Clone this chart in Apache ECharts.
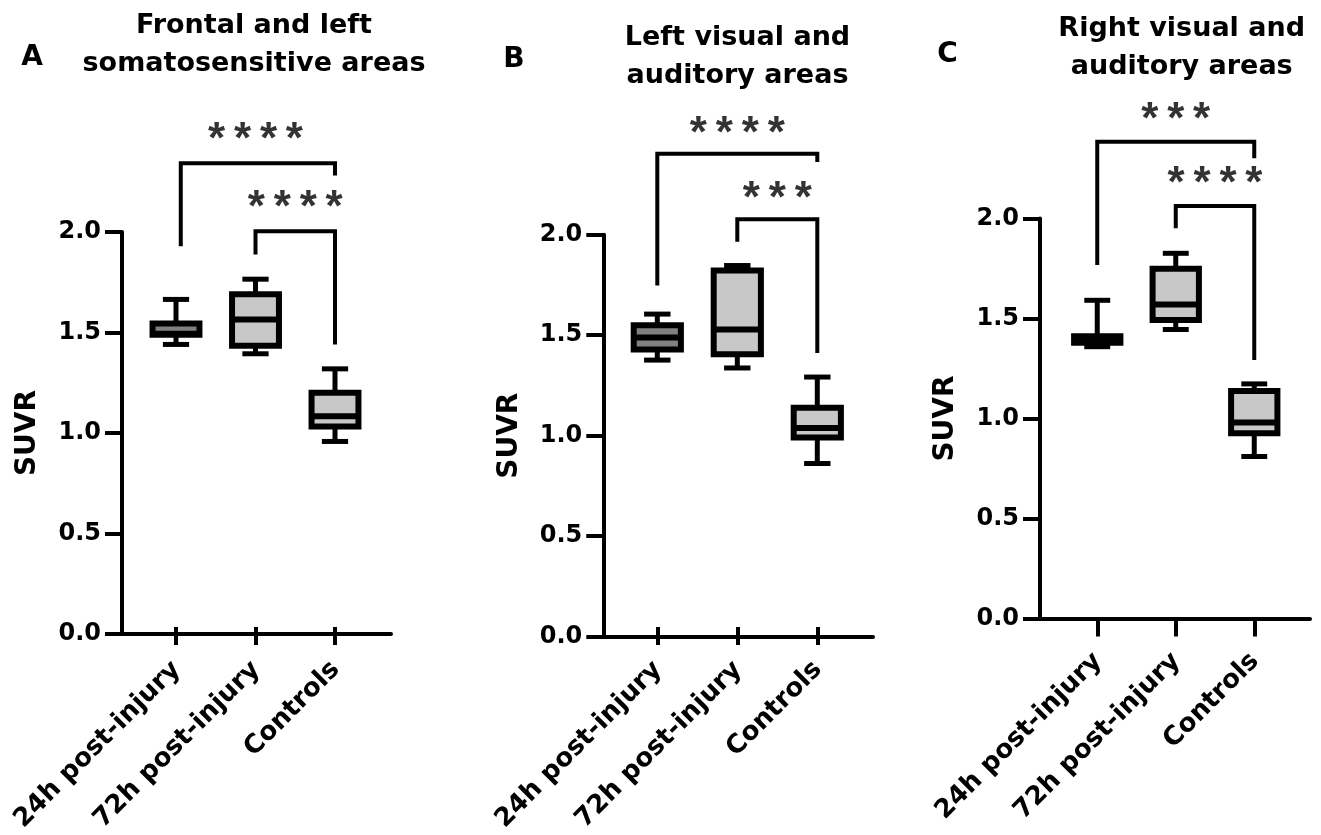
<!DOCTYPE html>
<html>
<head>
<meta charset="utf-8">
<script src="https://cdn.jsdelivr.net/npm/echarts@6/dist/echarts.min.js"></script>
<style>
html,body{margin:0;padding:0;background:#fff;}
#chart{width:1321px;height:835px;}
</style>
</head>
<body>
<div id="chart"></div>
<script>
// ---------------- DATA ----------------
const categories = ['24h post-injury', '72h post-injury', 'Controls'];
const panelTitles = ['Frontal and left\nsomatosensitive areas', 'Left visual and\nauditory areas', 'Right visual and\nauditory areas'];
const panelLetters = ['A', 'B', 'C'];
const yAxisName = 'SUVR';
const yTickInterval = 0.5;
const yAxisMax = 2.0;

// box values per group: [min, Q1, median, Q3, max]
const boxesA = [[1.424, 1.473, 1.478, 1.529, 1.651], [1.377, 1.418, 1.550, 1.677, 1.753], [0.935, 1.010, 1.062, 1.181, 1.301]];
const boxesB = [[1.352, 1.406, 1.466, 1.529, 1.585], [1.312, 1.382, 1.507, 1.806, 1.831], [0.828, 0.960, 1.008, 1.111, 1.266]];
const boxesC = [[1.359, 1.379, 1.392, 1.411, 1.591], [1.445, 1.4925, 1.570, 1.749, 1.826], [0.810, 0.926, 0.980, 1.137, 1.173]];

// significance brackets: [xLeft, xRight, yLeftEnd, yTop, yRightEnd]
const bracketsA = [[0.06, 2, 1.919, 2.337, 2.275], [1, 2, 1.877, 1.994, 1.424]];
const bracketsB = [[0, 2, 1.730, 2.397, 2.355], [1, 2, 1.952, 2.065, 1.388]];
const bracketsC = [[0, 2, 1.7675, 2.384, 2.301], [1, 2, 1.951, 2.0625, 1.2925]];

// significance labels: [x, y, text]
const starsA = [[1, 2.499, '****'], [1.5, 2.159, '****']];
const starsB = [[1, 2.542, '****'], [1.5, 2.214, '***']];
const starsC = [[1, 2.539, '***'], [1.5, 2.2175, '****']];

// ---------------- LAYOUT / STYLE ----------------
const FONT = '"DejaVu Sans", "Liberation Sans", Arial, sans-serif';
const STAR_FONT = '"Liberation Sans", Arial, sans-serif';
const groupFill = ['#808080', '#c8c8c8', '#c8c8c8'];
const BOX_FRAC = 0.59, CAP_FRAC = 0.33;
const DATA_MAX = 2.7;

const panels = [
  {boxes: boxesA, brackets: bracketsA, stars: starsA, axisLeft: 122, axisRight: 391, dataLeft: 136.25, dataWidth: 238.5, y0: 634, ppu: 201, titleX: 254, titleTop: 7, letterX: 32, letterY: 58},
  {boxes: boxesB, brackets: bracketsB, stars: starsB, axisLeft: 603.3, axisRight: 873, dataLeft: 617.3, dataWidth: 240, y0: 636.7, ppu: 201, titleX: 737.5, titleTop: 18.5, letterX: 514, letterY: 60},
  {boxes: boxesC, brackets: bracketsC, stars: starsC, axisLeft: 1040, axisRight: 1310, dataLeft: 1058, dataWidth: 235.5, y0: 618.5, ppu: 200, titleX: 1181.7, titleTop: 10, letterX: 947.5, letterY: 55}
];

function renderBox(params, api) {
  const j = api.value(0);
  const band = api.size([1, 0])[0];
  const pMin = api.coord([j, api.value(1)]);
  const x = pMin[0];
  const yMin = pMin[1];
  const yQ1 = api.coord([j, api.value(2)])[1];
  const yMed = api.coord([j, api.value(3)])[1];
  const yQ3 = api.coord([j, api.value(4)])[1];
  const yMax = api.coord([j, api.value(5)])[1];
  const bw = band * BOX_FRAC, cw = band * CAP_FRAC;
  const ls = {stroke: '#000', lineWidth: 5, lineCap: 'butt'};
  return {
    type: 'group',
    children: [
      {type: 'line', shape: {x1: x, y1: yQ3, x2: x, y2: yMax}, style: ls},
      {type: 'line', shape: {x1: x, y1: yQ1, x2: x, y2: yMin}, style: ls},
      {type: 'line', shape: {x1: x - cw / 2, y1: yMax, x2: x + cw / 2, y2: yMax}, style: ls},
      {type: 'line', shape: {x1: x - cw / 2, y1: yMin, x2: x + cw / 2, y2: yMin}, style: ls},
      {type: 'rect', shape: {x: x - bw / 2, y: yQ3, width: bw, height: yQ1 - yQ3},
        style: {fill: groupFill[j], stroke: '#000', lineWidth: 6, lineJoin: 'miter'}},
      {type: 'line', shape: {x1: x - bw / 2, y1: yMed, x2: x + bw / 2, y2: yMed},
        style: {stroke: '#000', lineWidth: 6, lineCap: 'butt'}}
    ]
  };
}

const grid = [], xAxis = [], yAxis = [], series = [], graphic = [];

panels.forEach((p, i) => {
  grid.push({left: p.axisLeft, width: p.axisRight - p.axisLeft, top: p.y0 - yAxisMax * p.ppu, height: yAxisMax * p.ppu});
  grid.push({left: p.dataLeft, width: p.dataWidth, top: p.y0 - DATA_MAX * p.ppu, height: DATA_MAX * p.ppu});

  const gA = 2 * i, gD = 2 * i + 1;
  xAxis.push({
    gridIndex: gA, type: 'value', min: 0, max: 1,
    axisLine: {show: true, onZero: false, lineStyle: {color: '#000', width: 4}},
    axisTick: {show: false}, axisLabel: {show: false}, splitLine: {show: false}
  });
  const xiCat = xAxis.length;
  xAxis.push({
    gridIndex: gD, type: 'category', data: categories, position: 'bottom',
    axisLine: {show: false, onZero: false},
    axisTick: {show: true, alignWithLabel: true, length: 18, lineStyle: {color: '#000', width: 4}},
    axisLabel: {show: true, interval: 0, rotate: 45, margin: 21, verticalAlign: 'top', padding: [0, 12, 0, 0],
      color: '#000', fontFamily: FONT, fontWeight: 'bold', fontSize: 26},
    splitLine: {show: false}
  });
  const xiVal = xAxis.length;
  xAxis.push({gridIndex: gD, type: 'value', min: -0.5, max: 2.5, show: false, position: 'top'});

  yAxis.push({
    gridIndex: gA, type: 'value', min: 0, max: yAxisMax, interval: yTickInterval,
    name: yAxisName, nameLocation: 'middle', nameGap: 80,
    nameTextStyle: {color: '#000', fontFamily: FONT, fontWeight: 'bold', fontSize: 28},
    axisLine: {show: true, onZero: false, lineStyle: {color: '#000', width: 4}},
    axisTick: {show: true, length: 17, lineStyle: {color: '#000', width: 4}},
    axisLabel: {show: true, margin: 21, color: '#000', fontFamily: FONT, fontWeight: 'bold', fontSize: 24,
      formatter: v => v.toFixed(1)},
    splitLine: {show: false}
  });
  const yiData = yAxis.length;
  yAxis.push({gridIndex: gD, type: 'value', min: 0, max: DATA_MAX, show: false});

  series.push({
    type: 'custom', xAxisIndex: xiCat, yAxisIndex: yiData,
    renderItem: renderBox,
    encode: {x: 0, y: [1, 2, 3, 4, 5]},
    data: p.boxes.map((b, j) => [j].concat(b)),
    silent: true, animation: false
  });

  p.brackets.forEach(b => {
    series.push({
      type: 'line', xAxisIndex: xiVal, yAxisIndex: yiData,
      data: [[b[0], b[2]], [b[0], b[3]], [b[1], b[3]], [b[1], b[4]]],
      symbol: 'none', silent: true, animation: false,
      lineStyle: {color: '#000', width: 4, cap: 'butt', join: 'miter'}
    });
  });

  series.push({
    type: 'scatter', xAxisIndex: xiVal, yAxisIndex: yiData,
    data: p.stars.map(s => ({value: [s[0], s[1]], name: s[2]})),
    symbolSize: 1, itemStyle: {color: 'rgba(0,0,0,0)'}, silent: true, animation: false,
    label: {show: true, position: 'inside', offset: [0, 10],
      formatter: q => q.name.split('').join('\u2009'),
      color: '#000', fontFamily: STAR_FONT, fontWeight: 'bold', fontSize: 44}
  });

  graphic.push({
    type: 'text', x: p.titleX, y: p.titleTop, silent: true,
    style: {text: panelTitles[i], fill: '#000', align: 'center', verticalAlign: 'top',
      fontFamily: FONT, fontWeight: 'bold', fontSize: 27, lineHeight: 38}
  });
  graphic.push({
    type: 'text', x: p.letterX, y: p.letterY, silent: true,
    style: {text: panelLetters[i], fill: '#000', align: 'center', verticalAlign: 'middle',
      fontFamily: FONT, fontWeight: 'bold', fontSize: 28}
  });
});

const chart = echarts.init(document.getElementById('chart'), null, {renderer: 'canvas'});
chart.setOption({
  backgroundColor: '#fff',
  animation: false,
  grid: grid,
  xAxis: xAxis,
  yAxis: yAxis,
  series: series,
  graphic: graphic
});
</script>
</body>
</html>
